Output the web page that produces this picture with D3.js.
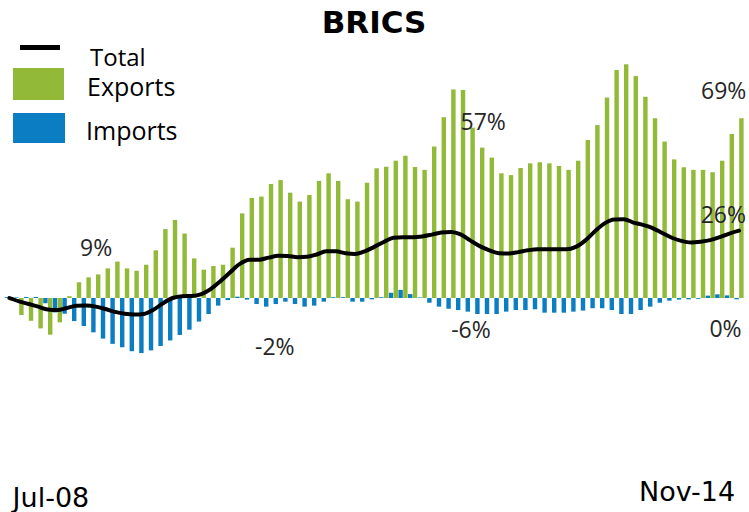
<!DOCTYPE html>
<html>
<head>
<meta charset="utf-8">
<script src="https://cdn.jsdelivr.net/npm/d3@7"></script>
<style>
body { margin: 0; background: #fff; }
</style>
</head>
<body>
<script>
// month-on-month, %
var exportsData = [-1, -6.5, -8.7, -11.6, -14.0, -9.3, 0.7, 6.0, 7.9, 9.0,
    11.3, 13.9, 11.3, 10.4, 12.7, 18.2, 26.3, 29.8, 24.6, 15.1,
    10.8, 12.2, 12.7, 19.2, 32.3, 38.2, 38.7, 43.5, 45.0, 40.2,
    36.8, 39.3, 44.7, 47.6, 44.7, 37.7, 36.8, 44.0, 49.5, 50.1,
    52.4, 54.3, 50.0, 48.9, 57.8, 69.0, 79.6, 79.4, 65.0, 57.4,
    53.6, 47.6, 46.9, 49.6, 51.4, 51.8, 51.4, 50.4, 48.9, 52.4,
    60.3, 66.0, 76.5, 87.0, 89.2, 84.7, 76.8, 68.6, 59.7, 52.9,
    49.9, 48.9, 48.9, 48.0, 52.4, 62.6, 68.6];

var importsData = [0.3, 0.2, 0.4, 0.4, -2.0, -5.5, -6.0, -8.8, -10.7, -13.1,
    -15.5, -17.5, -18.8, -20.3, -21.0, -20.0, -18.3, -16.2, -14.1, -12.1,
    -9.0, -6.1, -2.9, -0.8, 0.5, -0.6, -2.3, -3.3, -2.3, -1.4,
    -2.3, -3.3, -2.9, -1.4, 0.3, 0.3, -1.4, -1.4, -0.5, 0.3,
    2.0, 3.1, 1.5, 0.2, -1.8, -3.3, -4.1, -4.6, -5.2, -6.1,
    -6.1, -6.1, -5.2, -4.6, -4.6, -4.3, -5.6, -5.6, -5.6, -5.2,
    -4.8, -3.9, -3.9, -4.6, -6.1, -6.1, -4.6, -3.3, -1.8, -1.0,
    -0.6, -0.5, -0.3, 0.9, 1.4, 1.0, -0.5];

var totalData = [0, -1.3, -2.3, -3.3, -4.4, -4.6, -3.8, -3.0, -2.9, -3.3,
    -4.2, -5.3, -6.0, -6.3, -6.1, -4.5, -2.0, 0.0, 0.7, 0.8,
    1.5, 3.5, 6.5, 9.8, 13.0, 14.6, 14.6, 15.4, 16.1, 16.0,
    15.6, 15.7, 16.6, 17.8, 17.8, 17.1, 16.8, 17.8, 19.5, 21.4,
    23.0, 23.2, 23.2, 23.5, 24.2, 25.0, 25.2, 24.3, 22.0, 19.8,
    18.2, 17.1, 17.0, 17.5, 18.2, 18.6, 18.6, 18.6, 18.6, 19.5,
    22.0, 25.5, 28.5, 30.0, 30.1, 28.8, 27.9, 26.7, 24.8, 23.0,
    21.8, 21.2, 21.5, 22.1, 23.2, 24.6, 25.7];

var months = d3.timeMonth.range(new Date(2008, 6, 1), new Date(2014, 11, 1));
var tickLabels = ["Jul-08", "Nov-14"];
var seriesNames = ["Total", "Exports", "Imports"];

// value labels written on the chart
var notes = [
    {series: "exports", i: 9,  text: "9%",  anchor: "middle", dx: -2, dy: -18},
    {series: "imports", i: 28, text: "-2%", anchor: "middle", dx: -1, dy: 51},
    {series: "exports", i: 49, text: "57%", anchor: "middle", dx: 1, dy: -18},
    {series: "imports", i: 50, text: "-6%", anchor: "middle", dx: -16, dy: 24},
    {series: "exports", i: 76, text: "69%", anchor: "end", dx: 5, dy: -19},
    {series: "total",   i: 76, text: "26%", anchor: "end", dx: 7, dy: -8},
    {series: "imports", i: 76, text: "0%",  anchor: "end", dx: 5, dy: 38}
];

var green = "#92ba38";
var blue = "#0b7dc3";

var canvas = d3.select("body").append("svg")
    .attr("width", 749)
    .attr("height", 512);

var x = d3.scaleBand()
    .domain(d3.range(months.length))
    .range([4.6, 743.8])
    .paddingInner(0);

var xSub = d3.scaleBand()
    .domain(["imports", "exports"])
    .range([0, x.bandwidth()])
    .paddingInner(0.08)
    .paddingOuter(0.04);

var y = d3.scaleLinear()
    .domain([-30, 90])
    .range([376.6, 62.2]);

var seriesData = {exports: exportsData, imports: importsData, total: totalData};

setup();

function setup(){
    drawTitle();
    drawLegend();
    drawBars();
    drawLine();
    drawNotes();
    drawTicks();
}

function drawTitle(){
    canvas.append("text")
        .attr("x", 374)
        .attr("y", 33)
        .attr("text-anchor", "middle")
        .style("font-family", "DejaVu Sans")
        .style("font-weight", "bold")
        .style("font-size", "31px")
        .text("BRICS");
}

function drawLegend(){
    var font = "'Open Sans'";

    canvas.append("line")
        .attr("x1", 20).attr("x2", 60)
        .attr("y1", 47.5).attr("y2", 47.5)
        .attr("stroke", "black")
        .attr("stroke-width", 5);
    canvas.append("text")
        .attr("x", 90).attr("y", 66)
        .style("font-family", font).style("font-size", "24px")
        .text(seriesNames[0]);

    canvas.append("rect")
        .attr("x", 13).attr("y", 68)
        .attr("width", 51).attr("height", 32)
        .attr("fill", green);
    canvas.append("text")
        .attr("x", 87).attr("y", 96)
        .style("font-family", font).style("font-size", "25px")
        .text(seriesNames[1]);

    canvas.append("rect")
        .attr("x", 13).attr("y", 113)
        .attr("width", 52).attr("height", 30)
        .attr("fill", blue);
    canvas.append("text")
        .attr("x", 86).attr("y", 140)
        .style("font-family", font).style("font-size", "25px")
        .text(seriesNames[2]);
}

function drawBars(){
    var w = xSub.bandwidth();

    canvas.append("g").selectAll("rect")
        .data(importsData)
        .join("rect")
        .attr("x", function(d, i){ return x(i) + xSub("imports"); })
        .attr("y", function(d){ return y(Math.max(0, d)); })
        .attr("width", w)
        .attr("height", function(d){ return Math.abs(y(d) - y(0)); })
        .attr("fill", blue);

    canvas.append("g").selectAll("rect")
        .data(exportsData)
        .join("rect")
        .attr("x", function(d, i){ return x(i) + xSub("exports"); })
        .attr("y", function(d){ return y(Math.max(0, d)); })
        .attr("width", w)
        .attr("height", function(d){ return Math.abs(y(d) - y(0)); })
        .attr("fill", green);
}

function drawLine(){
    var line = d3.line()
        .x(function(d, i){ return x(i) + x.bandwidth() / 2; })
        .y(function(d){ return y(d); })
        .curve(d3.curveMonotoneX);

    canvas.append("path")
        .datum(totalData)
        .attr("d", line)
        .attr("fill", "none")
        .attr("stroke", "black")
        .attr("stroke-width", 4)
        .attr("stroke-linecap", "round")
        .attr("stroke-linejoin", "round");
}

function barCenter(series, i){
    if(series === "total") return x(i) + x.bandwidth() / 2;
    return x(i) + xSub(series) + xSub.bandwidth() / 2;
}

function drawNotes(){
    canvas.append("g").selectAll("text")
        .data(notes)
        .join("text")
        .attr("x", function(d){ return barCenter(d.series, d.i) + d.dx; })
        .attr("y", function(d){ return y(seriesData[d.series][d.i]) + d.dy; })
        .attr("text-anchor", function(d){ return d.anchor; })
        .style("font-family", "'Open Sans'")
        .style("font-size", "23px")
        .attr("fill", "#262626")
        .text(function(d){ return d.text; });
}

function drawTicks(){
    var first = 0, last = months.length - 1;

    canvas.append("text")
        .attr("x", x(first) + 8)
        .attr("y", 507)
        .style("font-family", "DejaVu Sans")
        .style("font-size", "27px")
        .text(tickLabels[0]);

    canvas.append("text")
        .attr("x", x(last) + 1)
        .attr("y", 501)
        .attr("text-anchor", "end")
        .style("font-family", "DejaVu Sans")
        .style("font-size", "27px")
        .text(tickLabels[1]);
}
</script>
</body>
</html>
